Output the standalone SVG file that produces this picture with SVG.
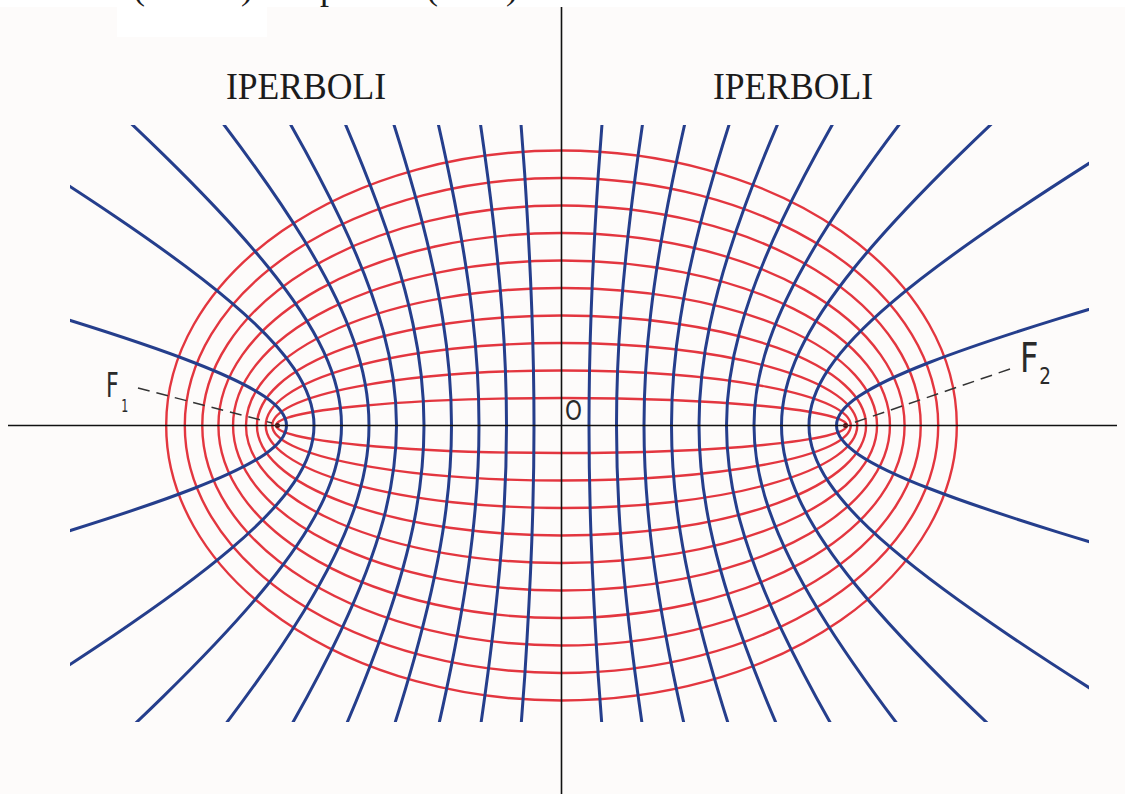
<svg xmlns="http://www.w3.org/2000/svg" xmlns:xlink="http://www.w3.org/1999/xlink" width="1125" height="794" viewBox="0 0 1125 794">
<style>
.ax{stroke:#111;stroke-width:1.6;fill:none}
.el{fill:none;stroke:#e3363f;stroke-width:2.4}
.hy{stroke:#253e8c;stroke-width:3}
.lbl{font-family:"Liberation Serif","Times New Roman",serif;fill:#1c1c1c}
.hand{font-family:"DejaVu Sans","Liberation Sans",sans-serif;fill:#2a2a2a}
.lead{stroke:#333;stroke-width:1.5;stroke-dasharray:12 7;fill:none}
</style>
<defs>
<path id="h" fill="none" vector-effect="non-scaling-stroke" d="M 2.577464 -2.375568 C 2.260722 -2.031906 2.011917 -1.750882 1.810656 -1.509461 C 1.609395 -1.268040 1.455849 -1.066431 1.337435 -0.888106 C 1.219021 -0.709781 1.135839 -0.554895 1.081072 -0.410752 C 1.026305 -0.266609 1 -0.133333 1 0 C 1 0.133333 1.026305 0.266609 1.081072 0.410752 C 1.135839 0.554895 1.219021 0.709781 1.337435 0.888106 C 1.455849 1.066431 1.609395 1.268040 1.810656 1.509461 C 2.011917 1.750882 2.260722 2.031906 2.577464 2.375568"/>
<clipPath id="clip"><rect x="70" y="125" width="1019" height="597"/></clipPath>
</defs>
<rect width="1125" height="794" fill="#fdfbfa"/>
<rect width="1125" height="7" fill="#ffffff"/>
<rect x="117" y="7" width="150" height="30" fill="#ffffff"/>
<text class="lbl" font-size="36" y="-1"><tspan x="133">(</tspan><tspan x="241">)</tspan><tspan x="320">p</tspan><tspan x="426">(</tspan><tspan x="506">)</tspan></text>
<g id="labels">
<text class="lbl" x="226" y="99" font-size="37" textLength="160" lengthAdjust="spacingAndGlyphs">IPERBOLI</text>
<text class="lbl" x="713" y="99" font-size="37" textLength="160" lengthAdjust="spacingAndGlyphs">IPERBOLI</text>
</g>
<g id="ellipses">
<ellipse class="el" cx="561.5" cy="425.5" rx="285.33" ry="27.5"/>
<ellipse class="el" cx="561.5" cy="425.5" rx="289.28" ry="55"/>
<ellipse class="el" cx="561.5" cy="425.5" rx="295.74" ry="82.5"/>
<ellipse class="el" cx="561.5" cy="425.5" rx="304.56" ry="110"/>
<ellipse class="el" cx="561.5" cy="425.5" rx="315.53" ry="137.5"/>
<ellipse class="el" cx="561.5" cy="425.5" rx="328.45" ry="165"/>
<ellipse class="el" cx="561.5" cy="425.5" rx="343.09" ry="192.5"/>
<ellipse class="el" cx="561.5" cy="425.5" rx="359.24" ry="220"/>
<ellipse class="el" cx="561.5" cy="425.5" rx="376.71" ry="247.5"/>
<ellipse class="el" cx="561.5" cy="425.5" rx="395.32" ry="275"/>
</g>
<g id="hyperbolas" class="hy" clip-path="url(#clip)">
<g transform="translate(561.5 425.5)">
<use href="#h" xlink:href="#h" transform="scale(27.5 282.66)"/>
<use href="#h" xlink:href="#h" transform="scale(-27.5 282.66)"/>
<use href="#h" xlink:href="#h" transform="scale(55 278.62)"/>
<use href="#h" xlink:href="#h" transform="scale(-55 278.62)"/>
<use href="#h" xlink:href="#h" transform="scale(82.5 271.75)"/>
<use href="#h" xlink:href="#h" transform="scale(-82.5 271.75)"/>
<use href="#h" xlink:href="#h" transform="scale(110 261.83)"/>
<use href="#h" xlink:href="#h" transform="scale(-110 261.83)"/>
<use href="#h" xlink:href="#h" transform="scale(137.5 248.49)"/>
<use href="#h" xlink:href="#h" transform="scale(-137.5 248.49)"/>
<use href="#h" xlink:href="#h" transform="scale(165 231.15)"/>
<use href="#h" xlink:href="#h" transform="scale(-165 231.15)"/>
<use href="#h" xlink:href="#h" transform="scale(192.5 208.81)"/>
<use href="#h" xlink:href="#h" transform="scale(-192.5 208.81)"/>
<use href="#h" xlink:href="#h" transform="scale(220 179.6)"/>
<use href="#h" xlink:href="#h" transform="scale(-220 179.6)"/>
<use href="#h" xlink:href="#h" transform="scale(247.5 139.28)"/>
<use href="#h" xlink:href="#h" transform="scale(-247.5 139.28)"/>
<use href="#h" xlink:href="#h" transform="scale(275 70.93)"/>
<use href="#h" xlink:href="#h" transform="scale(-275 70.93)"/>
</g>
</g>
<g id="axes">
<line class="ax" x1="8" y1="425.5" x2="1117" y2="425.5"/>
<line class="ax" x1="561.5" y1="7" x2="561.5" y2="794"/>
</g>
<g id="foci">
<circle cx="277.5" cy="425.5" r="2.5" fill="#4a1a1a"/>
<circle cx="845.5" cy="425.5" r="2.5" fill="#4a1a1a"/>
<line class="lead" x1="138" y1="388" x2="272" y2="423"/>
<line class="lead" x1="1010" y1="369" x2="850" y2="424"/>
</g>
<g id="F1">
<text class="hand" font-size="34" transform="translate(106 397) scale(0.65 1)">F<tspan font-size="17" dx="4" dy="15">1</tspan></text>
</g>
<g id="F2">
<text class="hand" font-size="40" transform="translate(1020 372) scale(0.8 1)">F<tspan font-size="23" dx="1" dy="12">2</tspan></text>
</g>
<g id="O">
<text class="hand" x="565" y="420" font-size="26" textLength="17" lengthAdjust="spacingAndGlyphs">O</text>
</g>
</svg>
